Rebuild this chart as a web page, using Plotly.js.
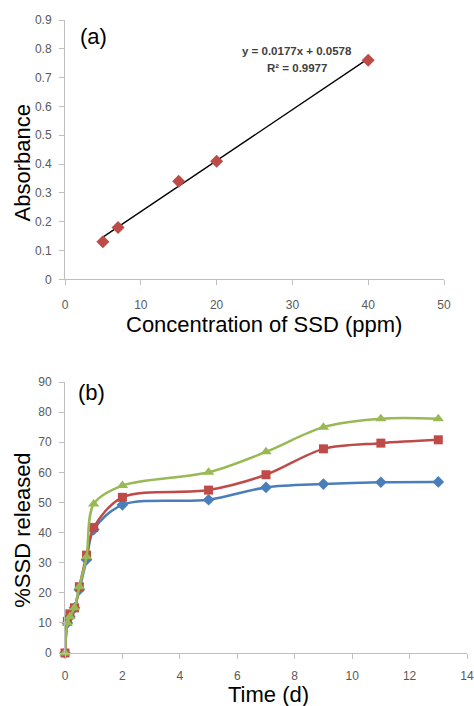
<!DOCTYPE html>
<html>
<head>
<meta charset="utf-8">
<script src="https://cdn.plot.ly/plotly-3.0.1.min.js"></script>
<style>html,body{margin:0;padding:0;background:#fff;}#chart{width:474px;height:706px;}</style>
</head>
<body>
<div id="chart"></div>
<script>
// Panel (a): calibration
const concPpm = [5, 7, 15, 20, 40];
const absorbance = [0.13, 0.18, 0.34, 0.41, 0.76];
const fitSlope = 0.0177;
const fitIntercept = 0.0578;
const fitXRange = [5, 40];
const fitLabel = "y = 0.0177x + 0.0578";
const r2Label = "R\u00b2 = 0.9977";

// Panel (b): release profiles
const timeDays = [0, 0.083, 0.17, 0.33, 0.5, 0.75, 1, 2, 5, 7, 9, 11, 13];
const releaseBlue  = [0, 10, 12, 15, 21, 31, 41, 49.2, 50.9, 55, 56.1, 56.7, 56.8];
const releaseRed   = [0, 10.5, 13, 15, 22, 32.5, 41.7, 51.7, 54.1, 59.2, 67.8, 69.7, 70.8];
const releaseGreen = [0, 10, 12, 15, 22, 32, 49.5, 55.6, 60, 66.8, 75, 77.8, 77.8];

const W = 474, H = 706;
const px = v => v / W;
const py = v => 1 - v / H;

const tickFont = {family: "Liberation Sans, Arial, sans-serif", size: 12, color: "#595959"};
const titleFont = {family: "Liberation Sans, Arial, sans-serif", size: 22, color: "#000"};

const axisCommon = {
  showgrid: false, zeroline: false, showline: true, linecolor: "#BFBFBF", linewidth: 1,
  ticks: "outside", ticklen: 5, tickcolor: "#BFBFBF", tickfont: tickFont, fixedrange: true
};

const fitY = fitXRange.map(x => fitSlope * x + fitIntercept);

const traces = [
  {x: fitXRange, y: fitY, mode: "lines", line: {color: "#000", width: 1.3},
   xaxis: "x", yaxis: "y", hoverinfo: "skip", showlegend: false},
  {x: concPpm, y: absorbance, mode: "markers",
   marker: {symbol: "diamond", size: 10, color: "#BE4B48"},
   xaxis: "x", yaxis: "y", showlegend: false, cliponaxis: false},
  {x: timeDays, y: releaseBlue, mode: "lines+markers",
   line: {color: "#4A7EBB", width: 2.5, shape: "spline", smoothing: 0.9},
   marker: {symbol: "diamond", size: 9, color: "#4A7EBB"},
   xaxis: "x2", yaxis: "y2", showlegend: false, cliponaxis: false},
  {x: timeDays, y: releaseRed, mode: "lines+markers",
   line: {color: "#BE4B48", width: 2.5, shape: "spline", smoothing: 0.9},
   marker: {symbol: "square", size: 9, color: "#BE4B48"},
   xaxis: "x2", yaxis: "y2", showlegend: false, cliponaxis: false},
  {x: timeDays, y: releaseGreen, mode: "lines+markers",
   line: {color: "#98B954", width: 2.5, shape: "spline", smoothing: 0.9},
   marker: {symbol: "triangle-up", size: 10, color: "#98B954"},
   xaxis: "x2", yaxis: "y2", showlegend: false, cliponaxis: false}
];

const layout = {
  width: W, height: H,
  margin: {l: 0, r: 0, t: 0, b: 0},
  paper_bgcolor: "#fff", plot_bgcolor: "#fff",
  showlegend: false,
  xaxis: Object.assign({}, axisCommon, {domain: [px(65), px(444)], range: [0, 50], dtick: 10, tick0: 0,
    anchor: "y", ticklabelstandoff: 9}),
  yaxis: Object.assign({}, axisCommon, {domain: [py(279.3), py(20)], range: [0, 0.9], dtick: 0.1, tick0: 0,
    anchor: "x", ticklabelstandoff: 5}),
  xaxis2: Object.assign({}, axisCommon, {domain: [px(65), px(467)], range: [0, 14], dtick: 2, tick0: 0,
    anchor: "y2", ticklabelstandoff: 7}),
  yaxis2: Object.assign({}, axisCommon, {domain: [py(653), py(382)], range: [0, 90], dtick: 10, tick0: 0,
    anchor: "x2", ticklabelstandoff: 5}),
  annotations: [
    {text: "Absorbance", xref: "paper", yref: "paper", x: px(21.5), y: py(163), textangle: -90,
     showarrow: false, font: titleFont, xanchor: "center", yanchor: "middle"},
    {text: "Concentration of SSD (ppm)", xref: "paper", yref: "paper", x: px(263.5), y: py(324),
     showarrow: false, font: titleFont, xanchor: "center", yanchor: "middle"},
    {text: "%SSD released", xref: "paper", yref: "paper", x: px(21.7), y: py(530), textangle: -90,
     showarrow: false, font: titleFont, xanchor: "center", yanchor: "middle"},
    {text: "Time (d)", xref: "paper", yref: "paper", x: px(268), y: py(694.5),
     showarrow: false, font: titleFont, xanchor: "center", yanchor: "middle"},
    {text: "(a)", xref: "paper", yref: "paper", x: px(93), y: py(36),
     showarrow: false, font: titleFont, xanchor: "center", yanchor: "middle"},
    {text: "(b)", xref: "paper", yref: "paper", x: px(91), y: py(392),
     showarrow: false, font: titleFont, xanchor: "center", yanchor: "middle"},
    {text: fitLabel, xref: "paper", yref: "paper", x: px(296.7), y: py(51),
     showarrow: false, font: {family: "Liberation Sans, Arial, sans-serif", size: 11.5, color: "#404040", weight: "bold"},
     xanchor: "center", yanchor: "middle"},
    {text: r2Label, xref: "paper", yref: "paper", x: px(296.7), y: py(67.7),
     showarrow: false, font: {family: "Liberation Sans, Arial, sans-serif", size: 11.5, color: "#404040", weight: "bold"},
     xanchor: "center", yanchor: "middle"}
  ]
};

Plotly.newPlot("chart", traces, layout, {staticPlot: true, displayModeBar: false});
</script>
</body>
</html>
